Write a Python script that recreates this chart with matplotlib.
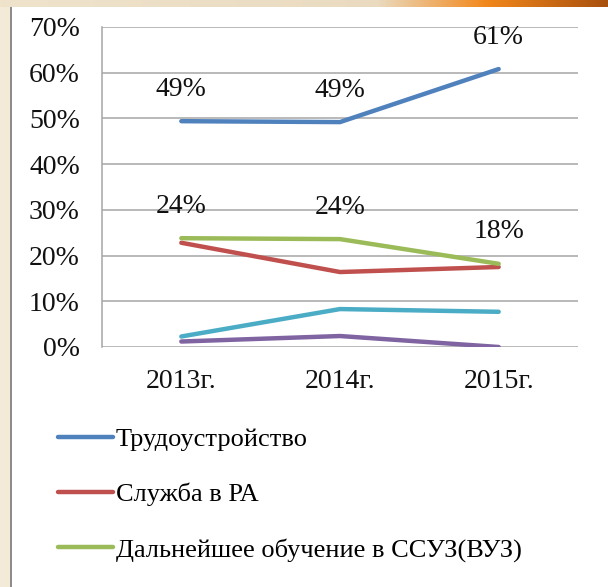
import matplotlib
matplotlib.use("Agg")
import matplotlib.pyplot as plt
import numpy as np
from matplotlib.colors import LinearSegmentedColormap
from matplotlib.patches import Rectangle

plt.rcParams["font.family"] = ["Liberation Serif", "DejaVu Serif"]

years = ["2013г.", "2014г.", "2015г."]
employment = [49.4, 49.2, 60.8]
army = [22.8, 16.4, 17.5]
study = [23.8, 23.6, 18.2]
other_a = [2.3, 8.3, 7.7]
other_b = [1.2, 2.4, 0.0]

employment_labels = ["49%", "49%", "61%"]
study_labels = ["24%", "24%", "18%"]

series_names = ["Трудоустройство", "Служба в РА", "Дальнейшее обучение в ССУЗ(ВУЗ)"]

W, H = 608, 587
fig = plt.figure(figsize=(W / 100, H / 100), dpi=100)
fig.patch.set_facecolor("white")

# slide background bits: top gradient strip, left beige margin, frame line
bg = fig.add_axes([0, 1 - 7 / H, 1, 7 / H])
grad = LinearSegmentedColormap.from_list(
    "slide", [(0, "#efe3cc"), (0.62, "#eadbc0"), (0.8, "#f2881c"), (1.0, "#a8500e")]
)
bg.imshow(np.linspace(0, 1, 256)[None, :], aspect="auto", cmap=grad, extent=[0, 1, 0, 1])
bg.set_axis_off()
fig.patches.append(Rectangle((0, 0), 10 / W, 1 - 7 / H, transform=fig.transFigure,
                             facecolor="#f4ead8", edgecolor="none", zorder=0))
fig.patches.append(Rectangle((10 / W, 0), 2 / W, 1 - 7 / H, transform=fig.transFigure,
                             facecolor="#8c8c8c", edgecolor="none", zorder=1))

ax = fig.add_axes([102 / W, (H - 347) / H, (578 - 102) / W, (347 - 27) / H])
x = np.arange(len(years))

lines = []
for vals, color in [(employment, "#4f81bd"), (army, "#c0504d"), (study, "#9bbb59"),
                    (other_a, "#4bacc6"), (other_b, "#8064a2")]:
    (ln,) = ax.plot(x, vals, color=color, linewidth=3.2, solid_capstyle="round", zorder=3)
    lines.append(ln)

for xi, v, lab in zip(x, employment, employment_labels):
    ax.annotate(lab, (xi, v), xytext=(0, 32), textcoords="offset pixels",
                ha="center", va="center", fontsize=20, color="#111111")
for xi, v, lab in zip(x, study, study_labels):
    ax.annotate(lab, (xi, v), xytext=(0, 32), textcoords="offset pixels",
                ha="center", va="center", fontsize=20, color="#111111")

ax.set_xlim(-0.5, 2.5)
ax.set_ylim(0, 70)
ax.set_yticks(np.arange(0, 71, 10))
ax.set_yticklabels([f"{t}%" for t in range(0, 71, 10)])
ax.set_xticks(x)
ax.set_xticklabels(years)
ax.tick_params(axis="y", length=0, pad=16, labelsize=20, labelcolor="#111111")
ax.tick_params(axis="x", length=0, pad=16, labelsize=20, labelcolor="#111111")
ax.grid(axis="y", color="#a6a6a6", linewidth=1.1)
ax.set_axisbelow(True)
for side in ["top", "right", "bottom"]:
    ax.spines[side].set_visible(False)
ax.spines["left"].set_color("#a6a6a6")
ax.spines["left"].set_linewidth(1.1)

fig.legend(lines[:3], series_names, loc="upper left",
           bbox_to_anchor=(58 / W, 1 - 428 / H), frameon=False, fontsize=19,
           handlelength=2.08, handletextpad=0.12, labelspacing=1.19,
           borderpad=0, borderaxespad=0)

fig.savefig("out.png", dpi=100)
